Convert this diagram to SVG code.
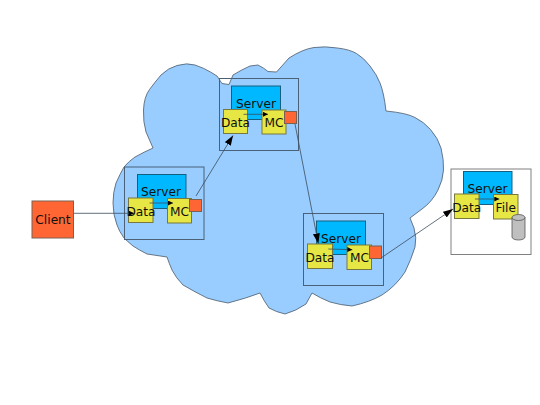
<svg xmlns="http://www.w3.org/2000/svg" width="540" height="405" viewBox="0 0 540 405">
<style>
text{font-family:"DejaVu Sans",sans-serif;font-size:12.200px;fill:#111;text-anchor:middle}
.f{fill:none;stroke:#4a6178;stroke-width:1}
.s{fill:#00b8ff;stroke:#16607f;stroke-width:1}
.y{fill:#e6e644;stroke:#77773f;stroke-width:1}
.r{fill:#ff6633;stroke:#7a6050;stroke-width:1}
.c{fill:none;stroke:#3c4c5c;stroke-width:.8}
</style>
<defs>
<marker id="a" markerWidth="6" markerHeight="6" refX="5" refY="2.500" orient="auto" markerUnits="userSpaceOnUse"><path d="M0 0L5 2.500L0 5z" fill="#000"/></marker>
<marker id="b" markerWidth="11" markerHeight="8" refX="10" refY="3.500" orient="auto" markerUnits="userSpaceOnUse"><path d="M0 0L10 3.500L0 7z" fill="#000"/></marker>
</defs>
<path id="cloud" d="M276.500 72L289 58Q303 49 314 47.500Q325 46 337.500 48Q350 49.500 356.500 53.500Q364 58 370 66Q377 75 380 83Q384 93 386 111Q407 113 415 117.500Q424 122 430.500 129.500Q438 138 441 148Q444 160 443.500 170Q443 180 438 190Q432 202 422 209L410 218L414 228Q417 238 415 247Q411 260 405 272Q396 286 382 295Q370 302 352 306Q340 305 330 302Q320 298 312 293L306 304Q296 311 285 314Q276 312 269 308Q264 301 260 293Q247 298 228 303Q217 301 207 298Q195 292 183 285Q176 278 172 270Q169 263 167 257L147 254Q139 250 133 246Q127 241 124 238Q119 231 117 225Q113 215 113 203Q113 192 116 183Q120 174 124 167Q129 161 135 157Q144 152 153 148L146 132Q143 122 143.500 110Q144 97 149.500 89.500Q155 82 161 75Q168 68 177 65.500Q187 62.500 195 65Q204 68 210.500 72L217 76L222 83.500L229 84.500L233 75Q241 70 250 66L258 65Q264 68 268 71.500Z" fill="#99ccff" stroke="#4a5a6a" stroke-width=".8"/>
<g id="server-top">
<rect class="f" x="219.500" y="78.500" width="79" height="72"/>
<rect class="s" x="231.500" y="86" width="49" height="33.500"/>
<rect class="y" x="223.500" y="109.500" width="24" height="24"/>
<rect class="y" x="262" y="110" width="24" height="24"/>
<rect class="r" x="284.500" y="111.500" width="12" height="12"/>
<text x="256" y="108.300">Server</text><text x="235.500" y="126.500">Data</text><text x="274" y="126.500">MC</text>
</g>
<g id="server-left">
<rect class="f" x="124.500" y="167" width="79.500" height="72.500"/>
<rect class="s" x="137.500" y="174.500" width="48.500" height="34"/>
<rect class="y" x="128.500" y="198" width="24.500" height="24.500"/>
<rect class="y" x="167.500" y="198.500" width="24" height="24.500"/>
<rect class="r" x="189.500" y="199.500" width="12" height="12"/>
<text x="161" y="196">Server</text><text x="141" y="215.500">Data</text><text x="179.500" y="215.500">MC</text>
</g>
<g id="server-right">
<rect class="f" x="303.500" y="213.500" width="80" height="72"/>
<rect class="s" x="316.500" y="221" width="49" height="33.500"/>
<rect class="y" x="307.500" y="244" width="25" height="24.500"/>
<rect class="y" x="347" y="245" width="24.500" height="24.500"/>
<rect class="r" x="369.500" y="246" width="12" height="12.500"/>
<text x="341" y="242.700">Server</text><text x="320" y="261.700">Data</text><text x="359.500" y="261.700">MC</text>
</g>
<g id="server-file">
<rect x="451" y="169" width="80" height="85.500" fill="#fff" stroke="#808080" stroke-width="1"/>
<rect class="s" x="463.500" y="171.500" width="48.500" height="33"/>
<rect class="y" x="454.500" y="194" width="24.500" height="24.500"/>
<rect class="y" x="493.500" y="194.500" width="24.500" height="24.500"/>
<path d="M512 217.500V237a6.500 3 0 0 0 13 0V217.500a6.500 3 0 0 0-13 0a6.500 3 0 0 0 13 0" fill="#bfbfbf" stroke="#555" stroke-width=".8"/>
<text x="487.500" y="192.700">Server</text><text x="466.700" y="211.700">Data</text><text x="505.800" y="211.700">File</text>
</g>
<g id="client">
<rect class="r" x="32" y="201" width="41.500" height="37"/>
<text x="53" y="224.300">Client</text>
</g>
<g id="connectors">
<path class="c" d="M74 213.300H134" marker-end="url(#a)"/>
<path class="c" d="M196 196L233 135.500" marker-end="url(#b)"/>
<path class="c" d="M295 124L318.300 243.500" marker-end="url(#b)"/>
<path class="c" d="M381 258L453 209" marker-end="url(#b)"/>
<path class="c" d="M149.500 203H173" marker-end="url(#a)"/>
<path class="c" d="M243.500 114.300H268" marker-end="url(#a)"/>
<path class="c" d="M328.300 249L352.300 249.700" marker-end="url(#a)"/>
<path class="c" d="M475 199H499.300" marker-end="url(#a)"/>
</g>
</svg>
